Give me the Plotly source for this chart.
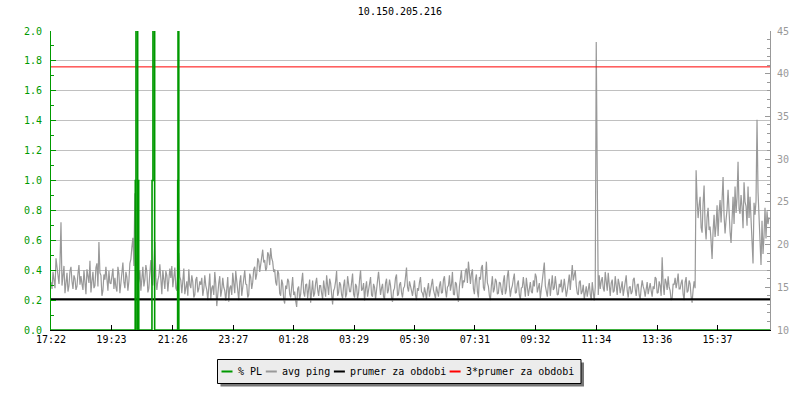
import plotly.graph_objects as go

# ---------------- data ----------------
title_text = "10.150.205.216"
start_label = "17:22"
tick_labels = ["17:22", "19:23", "21:26", "23:27", "01:28", "03:29",
               "05:30", "07:31", "09:32", "11:34", "13:36", "15:37"]

sample_step_min = 2
# avg ping [ms], one value every 2 minutes from 17:22 (rows = 1 hour)
ping_values = [
    15.6, 14.8, 16.8, 15.9, 14.9, 18.4, 17.2, 16.0, 15.4, 17.9, 22.6, 15.2, 16.1, 17.5, 14.3, 15.8, 16.7, 14.5, 15.2, 16.9, 17.4, 15.7, 14.8, 16.4, 16.0, 14.7, 15.1, 16.6, 17.6, 15.3,
    16.3, 15.4, 14.7, 17.0, 15.9, 14.2, 17.1, 16.2, 15.5, 18.1, 14.4, 15.7, 16.8, 14.9, 15.2, 17.3, 17.8, 15.1, 20.3, 16.7, 16.4, 14.0, 14.6, 16.5, 15.9, 17.4, 15.8, 14.6, 16.9, 15.5,
    15.4, 16.5, 17.2, 14.8, 16.1, 15.0, 14.5, 17.4, 16.6, 14.3, 15.3, 16.9, 17.9, 15.6, 14.9, 16.8, 16.2, 14.6, 15.7, 17.8, 18.3, 19.7, 20.8, 17.5, 26.0, 18.9, 17.2, 15.1, 15.8, 17.0,
    14.6, 16.2, 17.4, 15.1, 15.9, 17.6, 16.8, 14.4, 14.9, 16.7, 18.2, 15.5, 15.2, 17.3, 20.3, 16.1, 14.7, 15.8, 16.3, 17.7, 15.5, 14.2, 17.0, 15.9, 14.8, 16.9, 16.4, 14.5, 15.6, 17.2,
    16.1, 17.5, 15.0, 16.3, 17.3, 14.9, 14.6, 16.8, 19.0, 16.2, 15.8, 14.3, 16.5, 17.2, 14.2, 15.4, 15.7, 14.0, 17.1, 15.3, 14.9, 16.4, 15.6, 13.8, 14.1, 15.9, 16.2, 14.4, 14.8, 15.7,
    15.3, 16.1, 14.0, 14.8, 16.4, 15.2, 14.7, 13.5, 15.9, 16.6, 13.6, 14.9, 15.2, 14.1, 16.8, 15.4, 12.8, 14.6, 15.5, 16.3, 13.9, 14.7, 16.1, 15.0, 14.6, 13.4, 15.0, 16.2, 13.3, 14.9,
    15.2, 14.1, 16.7, 15.5, 14.3, 16.9, 15.8, 14.4, 13.5, 15.6, 16.4, 14.0, 14.9, 16.1, 17.0, 15.4, 15.3, 13.8, 14.1, 16.6, 16.2, 14.8, 15.6, 17.1, 17.4, 15.9, 16.5, 18.4, 18.1, 16.8,
    17.6, 18.7, 19.4, 17.9, 18.2, 16.9, 17.3, 19.1, 18.8, 17.6, 19.6, 18.4, 18.0, 16.8, 17.1, 15.6, 15.2, 17.0, 16.6, 14.3, 14.0, 15.9, 15.4, 13.6, 13.1, 15.2, 14.8, 16.0, 15.7, 14.2,
    13.8, 15.0, 16.2, 14.1, 14.5, 13.4, 12.7, 14.8, 15.1, 13.6, 14.2, 15.7, 16.7, 14.4, 13.9, 15.3, 15.4, 13.7, 14.6, 15.9, 13.2, 14.5, 15.8, 13.9, 14.3, 15.5, 16.1, 14.7, 14.0, 15.2,
    15.2, 14.3, 13.6, 15.8, 14.7, 13.9, 16.4, 15.1, 14.1, 16.0, 15.5, 14.2, 13.0, 14.6, 14.9, 15.7, 16.9, 14.0, 14.4, 15.6, 15.3, 14.1, 13.7, 15.2, 15.9, 13.8, 14.2, 16.3, 15.0, 14.5,
    14.5, 15.6, 16.6, 14.2, 13.8, 15.4, 15.1, 13.7, 14.3, 15.9, 17.0, 14.6, 14.8, 15.5, 13.4, 14.9, 15.7, 13.9, 14.6, 15.3, 16.2, 14.1, 13.9, 15.4, 15.0, 13.6, 14.4, 15.8, 16.8, 14.7,
    14.1, 14.9, 15.4, 13.9, 13.6, 15.5, 16.0, 14.3, 14.7, 15.9, 15.2, 13.8, 13.3, 14.6, 14.9, 16.1, 16.5, 14.0, 14.2, 15.3, 15.6, 14.4, 13.8, 14.9, 15.1, 16.2, 17.3, 15.0, 14.5, 15.7,
    15.3, 14.6, 14.0, 15.2, 15.8, 14.1, 13.5, 14.9, 14.6, 15.6, 16.2, 14.5, 14.3, 13.8, 15.0, 14.4, 13.6, 14.8, 15.5, 13.9, 14.8, 15.4, 16.0, 14.7, 14.2, 13.7, 15.1, 14.5, 13.9, 15.2,
    15.7, 14.3, 14.4, 15.9, 16.3, 14.7, 13.8, 15.0, 15.2, 16.4, 14.6, 15.3, 16.8, 14.2, 14.1, 15.6, 15.4, 14.0, 13.3, 15.1, 16.1, 17.0, 14.9, 15.8, 15.6, 16.9, 17.2, 15.5, 18.0, 16.4,
    15.4, 16.6, 17.1, 14.8, 14.2, 15.9, 16.5, 14.5, 13.8, 16.2, 15.9, 17.3, 17.6, 15.0, 14.6, 16.1, 18.0, 15.5, 15.1, 14.0, 13.5, 15.2, 16.3, 14.4, 14.8, 16.0, 15.7, 14.2, 14.3, 15.6,
    15.5, 14.6, 14.1, 15.7, 16.4, 14.2, 14.7, 16.3, 17.0, 15.1, 13.9, 14.8, 15.2, 16.0, 16.6, 14.3, 14.4, 15.4, 15.8, 14.1, 13.6, 14.9, 15.0, 16.2, 14.5, 13.9, 16.1, 15.3, 14.0, 14.8,
    15.6, 14.5, 14.3, 15.8, 15.1, 16.6, 16.2, 14.4, 14.8, 15.5, 13.7, 14.6, 15.9, 16.8, 17.9, 15.2, 14.6, 13.9, 15.3, 16.0, 14.0, 15.1, 16.4, 14.7, 14.9, 16.3, 15.5, 14.1, 14.2, 15.4,
    15.0, 15.9, 14.4, 14.9, 16.0, 15.2, 13.9, 14.6, 15.4, 16.5, 14.7, 16.9, 17.6, 15.8, 16.3, 17.0, 15.2, 14.3, 14.1, 15.6, 15.8, 14.2, 14.5, 15.3, 13.6, 14.8, 15.1, 13.9, 14.6, 15.5,
    14.2, 13.5, 15.6, 14.3, 13.4, 15.0, 43.7, 28.1, 14.1, 16.4, 14.8, 15.7, 16.2, 14.9, 14.5, 16.8, 15.3, 14.6, 16.7, 15.2, 14.0, 15.5, 15.9, 14.4, 14.6, 16.3, 15.2, 14.1, 16.0, 15.4,
    14.3, 15.2, 15.7, 14.0, 14.9, 15.8, 16.4, 14.6, 13.8, 15.0, 15.1, 14.2, 14.5, 15.9, 16.1, 14.8, 14.0, 15.3, 15.4, 14.1, 13.6, 14.9, 15.8, 15.1, 14.7, 13.9, 15.0, 15.6, 14.2, 14.8,
    15.5, 14.6, 13.9, 15.1, 14.8, 16.2, 16.0, 14.3, 14.4, 15.7, 15.2, 14.0, 18.5, 15.4, 14.1, 16.0, 15.6, 14.7, 16.3, 15.0, 14.6, 13.5, 13.7, 15.4, 15.3, 16.1, 14.9, 15.6, 16.6, 14.8,
    14.8, 15.5, 15.9, 14.2, 13.5, 15.6, 16.2, 14.4, 14.6, 15.8, 15.4, 13.9, 13.2, 14.7, 15.7, 14.9, 28.7, 25.3, 23.1, 24.6, 25.6, 22.0, 21.4, 24.8, 26.9, 22.3, 20.6, 23.2, 24.3, 21.7,
    22.1, 20.4, 18.3, 21.6, 23.5, 20.9, 22.2, 24.6, 21.0, 23.8, 25.2, 22.6, 24.8, 27.9, 23.4, 21.3, 22.9, 24.1, 26.4, 23.0, 21.5, 20.2, 24.1, 25.6, 22.4, 26.8, 23.7, 25.5, 29.7, 24.2,
    23.6, 25.8, 24.4, 21.9, 27.3, 25.0, 24.5, 22.2, 26.8, 23.1, 25.6, 22.7, 20.3, 17.8, 24.9, 23.5, 25.1, 34.6, 26.2, 23.4, 19.5, 17.6, 22.8, 18.9, 21.0, 24.3, 20.7, 23.9, 22.4, 23.2,
]

# packet loss [%] (minutes after 17:22, value)
pl_minutes = [0, 168.6, 168.8, 169.6, 169.8, 170.2, 170.4, 173.4, 173.6, 174.6, 174.8, 175.6, 175.8,
              202.2, 202.4, 204.2, 204.4, 207.4, 207.6,
              253.6, 253.8, 254.4, 254.6, 254.9, 255.1, 255.8, 256.0, 1440]
pl_values = [0, 0, 1, 1, 0, 0, 100, 100, 0, 0, 1, 1, 0,
             0, 1, 1, 100, 100, 0,
             0, 1, 1, 100, 100, 1, 1, 0, 0]

period_mean = 13.6  # "prumer za obdobi" [ms]

series_names = ["% PL", "avg ping", "prumer za obdobi", "3*prumer za obdobi"]

# ---------------- derived ----------------
def to_minutes(label):
    h, m = map(int, label.split(":"))
    sh, sm = map(int, start_label.split(":"))
    return ((h * 60 + m) - (sh * 60 + sm)) % 1440

tick_vals = [to_minutes(t) for t in tick_labels]
ping_minutes = [i * sample_step_min for i in range(len(ping_values))]
span = [0, 1440]

GREEN = "#009900"
GRAY = "#999999"
MONO = "DejaVu Sans Mono"
colors = [GREEN, GRAY, "black", "red"]

W, H = 800, 400
ML, MR, MT, MB = 51, 30, 31, 70
PW, PH = W - ML - MR, H - MT - MB

def px_x(px):
    return (px - ML) / PW

def px_y(py):
    return (H - MB - py) / PH

fig = go.Figure()
fig.add_trace(go.Scatter(x=pl_minutes, y=pl_values, yaxis="y2", mode="lines",
                         name=series_names[0], line=dict(color=colors[0], width=1.6)))
fig.add_trace(go.Scatter(x=ping_minutes, y=ping_values, mode="lines",
                         name=series_names[1], line=dict(color=colors[1], width=1.2)))
fig.add_trace(go.Scatter(x=span, y=[period_mean] * 2, mode="lines",
                         name=series_names[2], line=dict(color=colors[2], width=2)))
fig.add_trace(go.Scatter(x=span, y=[3 * period_mean] * 2, mode="lines",
                         name=series_names[3], line=dict(color=colors[3], width=1)))

# ---- legend box (rrdtool style, with shadow) ----
shapes = []
annotations = []
box = (217.5, 359.5, 581, 383.5)
shapes.append(dict(type="rect", xref="paper", yref="paper",
                   x0=px_x(box[0] + 3), x1=px_x(box[2] + 3),
                   y0=px_y(box[3] + 3), y1=px_y(box[1] + 3),
                   fillcolor="#777777", line=dict(width=0), layer="above"))
shapes.append(dict(type="rect", xref="paper", yref="paper",
                   x0=px_x(box[0]), x1=px_x(box[2]),
                   y0=px_y(box[3]), y1=px_y(box[1]),
                   fillcolor="#ececec", line=dict(color="black", width=1), layer="above"))
x = 221.5
ly = 371.5
char_w = 5.95
for name, col in zip(series_names, colors):
    shapes.append(dict(type="line", xref="paper", yref="paper",
                       x0=px_x(x), x1=px_x(x + 11), y0=px_y(ly), y1=px_y(ly),
                       line=dict(color=col, width=2), layer="above"))
    tx = x + 15
    annotations.append(dict(text=name, xref="paper", yref="paper",
                            x=px_x(tx - 1), y=px_y(ly - 0.5), xanchor="left", yanchor="middle",
                            showarrow=False,
                            font=dict(family=MONO, size=10, color="black")))
    x = tx + len(name) * char_w + 5.5

fig.update_layout(
    width=W, height=H,
    margin=dict(l=ML, r=MR, t=MT, b=MB),
    paper_bgcolor="white", plot_bgcolor="white",
    font=dict(family=MONO, size=10, color="black"),
    title=dict(text=title_text, x=0.5, xref="container", xanchor="center",
               y=1 - 11 / H, yref="container", yanchor="middle",
               font=dict(family=MONO, size=10, color="black")),
    showlegend=False,
    shapes=shapes,
    annotations=annotations,
    xaxis=dict(range=span, tickvals=tick_vals, ticktext=tick_labels,
               ticks="inside", ticklen=5, tickcolor="black",
               showline=True, linecolor="black", linewidth=1,
               showgrid=False, zeroline=False, automargin=False,
               tickfont=dict(family=MONO, size=10, color="black")),
    yaxis=dict(range=[10, 45], side="right", dtick=5,
               ticks="inside", ticklen=5, tickcolor=GRAY,
               minor=dict(dtick=1, ticks="inside", ticklen=3, tickcolor=GRAY),
               showline=True, linecolor=GRAY, linewidth=1,
               showgrid=False, zeroline=False, ticklabelstandoff=4, automargin=False,
               tickfont=dict(family=MONO, size=10, color=GRAY)),
    yaxis2=dict(range=[0, 2], overlaying="y", side="left", dtick=0.2,
                tickformat=".1f",
                ticks="inside", ticklen=5, tickcolor=GREEN,
                minor=dict(dtick=0.1, ticks="inside", ticklen=3, tickcolor=GREEN),
                showline=True, linecolor=GREEN, linewidth=1,
                showgrid=True, gridcolor="#c0c0c0", gridwidth=1,
                zeroline=False, ticklabelstandoff=6, automargin=False,
                tickfont=dict(family=MONO, size=10, color=GREEN)),
)

fig.write_html("out.html", config={"displayModeBar": False},
               post_script="document.body.style.margin='0px';")
